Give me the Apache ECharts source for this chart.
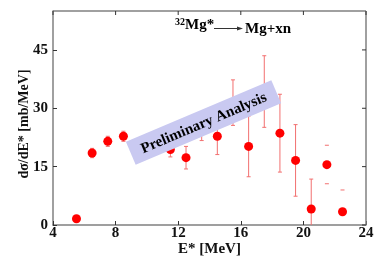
<!DOCTYPE html>
<html><head><meta charset="utf-8">
<script src="https://cdn.jsdelivr.net/npm/echarts@6/dist/echarts.min.js"></script>
<style>html,body{margin:0;padding:0;background:#fff}#c{width:382px;height:263px}</style>
</head><body><div id="c"></div>
<script>
// Data
var energies = [5.5, 6.5, 7.5, 8.5, 9.5, 11.5, 12.5, 13.5, 14.5, 15.5, 16.5, 17.5, 18.5, 19.5, 20.5, 21.5, 22.5];
var values   = [1.6, 18.5, 21.5, 22.8, 20.0, 19.4, 17.3, 25.0, 22.8, 31.4, 20.2, 34.3, 23.6, 16.6, 4.1, 15.5, 3.4];
var errLow   = [1.1, 17.3, 20.2, 21.5, 17.8, 17.5, 14.4, 21.7, 18.1, 25.6, 12.4, 25.1, 13.6, 7.4, -3.6, 10.6, -2.2];
var errHigh  = [2.1, 19.7, 22.8, 24.1, 22.2, 21.3, 20.2, 28.3, 27.5, 37.3, 28.0, 43.5, 33.6, 25.8, 11.8, 20.5, 9.0];
var capOnly  = [21.5, 22.5];
var xTicks = [4, 8, 12, 16, 20, 24];
var yTicks = [0, 15, 30, 45];
var xRange = [4, 24];
var yRange = [0, 55];

var chart = echarts.init(document.getElementById('c'), null, {renderer: 'canvas'});
var FONT = '"Liberation Serif", "DejaVu Serif", serif';
var errData = energies.map(function (e, i) { return [e, errLow[i], errHigh[i], capOnly.indexOf(e) >= 0 ? 1 : 0]; });
var ptData = energies.map(function (e, i) { return [e, values[i]]; });
// frame items: [kind, value] kind 0 = top tick at x value, 1 = right tick at y value, 2 = frame edges
var frameData = [[2, 0]].concat(xTicks.map(function (t) { return [0, t]; }), yTicks.map(function (t) { return [1, t]; }));

var lbl = {color: '#111', fontFamily: FONT, fontWeight: 'bold', fontSize: 15};

chart.setOption({
  animation: false,
  grid: {left: 53, top: 11, width: 313, height: 214, containLabel: false},
  xAxis: {type: 'value', min: xRange[0], max: xRange[1], interval: 4,
     axisLine: {show: true, onZero: false, lineStyle: {color: '#808080', width: 1.5}},
     axisTick: {show: true, inside: true, length: 4, lineStyle: {color: '#333'}},
     splitLine: {show: false},
     axisLabel: Object.assign({margin: 1}, lbl)},
  yAxis: {type: 'value', min: yRange[0], max: yRange[1], interval: 15,
     axisLine: {show: true, onZero: false, lineStyle: {color: '#808080', width: 1.5}},
     axisTick: {show: true, inside: true, length: 4, lineStyle: {color: '#333'}},
     splitLine: {show: false},
     axisLabel: Object.assign({margin: 5, showMaxLabel: false}, lbl)},
  series: [
    {type: 'custom', clip: false, z: 1, silent: true, data: frameData,
     encode: {x: -1, y: -1},
     renderItem: function (params, api) {
       var kind = api.value(0), v = api.value(1);
       var tl = api.coord([xRange[0], yRange[1]]);
       var br = api.coord([xRange[1], yRange[0]]);
       var fst = {stroke: '#808080', lineWidth: 1.5};
       var tst = {stroke: '#333', lineWidth: 1};
       if (kind === 2) {
         return {type: 'group', children: [
           {type: 'line', shape: {x1: tl[0], y1: tl[1], x2: br[0], y2: tl[1]}, style: fst},
           {type: 'line', shape: {x1: br[0], y1: tl[1], x2: br[0], y2: br[1]}, style: fst}
         ]};
       }
       if (kind === 0) {
         var px = api.coord([v, yRange[1]]);
         return {type: 'line', shape: {x1: px[0], y1: tl[1], x2: px[0], y2: tl[1] + 4}, style: tst};
       }
       var py = api.coord([xRange[1], v]);
       return {type: 'line', shape: {x1: br[0] - 4, y1: py[1], x2: br[0], y2: py[1]}, style: tst};
     }},
    {type: 'custom', clip: true, z: 2, data: errData,
     renderItem: function (params, api) {
       var x = api.value(0);
       var lo = api.coord([x, api.value(1)]);
       var hi = api.coord([x, api.value(2)]);
       var co = api.value(3);
       var w = 2;
       var st = {stroke: '#f26f6f', lineWidth: 1};
       var ch = [
         {type: 'line', shape: {x1: hi[0] - w, y1: hi[1], x2: hi[0] + w, y2: hi[1]}, style: st},
         {type: 'line', shape: {x1: lo[0] - w, y1: lo[1], x2: lo[0] + w, y2: lo[1]}, style: st}
       ];
       if (!co) ch.push({type: 'line', shape: {x1: lo[0], y1: lo[1], x2: hi[0], y2: hi[1]}, style: st});
       return {type: 'group', children: ch};
     }},
    {type: 'scatter', z: 3, data: ptData, symbol: 'circle', symbolSize: 9,
     itemStyle: {color: '#ff0000', opacity: 1}}
  ],
  graphic: [
    {type: 'group', x: 203.5, y: 122.5, rotation: 23 * Math.PI / 180, z: 100, children: [
      {type: 'rect', z: 100, shape: {x: -79, y: -12.5, width: 158, height: 25}, style: {fill: '#c9c9f1'}},
      {type: 'text', z: 101, x: 0, y: 1, style: {text: 'Preliminary Analysis', font: 'bold 15px ' + FONT, fill: '#000', align: 'center', verticalAlign: 'middle'}}
    ]},
    {type: 'text', left: 175, top: 17, z: 100, style: {text: '{s|32}{m|Mg*}', rich: {
      s: {font: 'bold 10px ' + FONT, fill: '#000', verticalAlign: 'top', padding: [0, 0, 7, 0]},
      m: {font: 'bold 15px ' + FONT, fill: '#000'}}}},
    {type: 'line', z: 100, shape: {x1: 214, y1: 28.5, x2: 241, y2: 28.5}, style: {stroke: '#333', lineWidth: 1}},
    {type: 'polygon', z: 100, shape: {points: [[243, 28.5], [237, 26.5], [237, 30.5]]}, style: {fill: '#333'}},
    {type: 'text', x: 245, y: 29, z: 100, style: {text: 'Mg+xn', font: 'bold 15px ' + FONT, fill: '#000', verticalAlign: 'middle'}},
    {type: 'text', x: 209.5, y: 249, z: 100, style: {text: 'E* [MeV]', font: 'bold 15px ' + FONT, fill: '#111', align: 'center', verticalAlign: 'middle'}},
    {type: 'text', x: 24, y: 124, rotation: Math.PI / 2, z: 100, style: {text: 'dσ/dE* [mb/MeV]', font: 'bold 14px ' + FONT, fill: '#111', align: 'center', verticalAlign: 'middle'}}
  ]
});
</script></body></html>
